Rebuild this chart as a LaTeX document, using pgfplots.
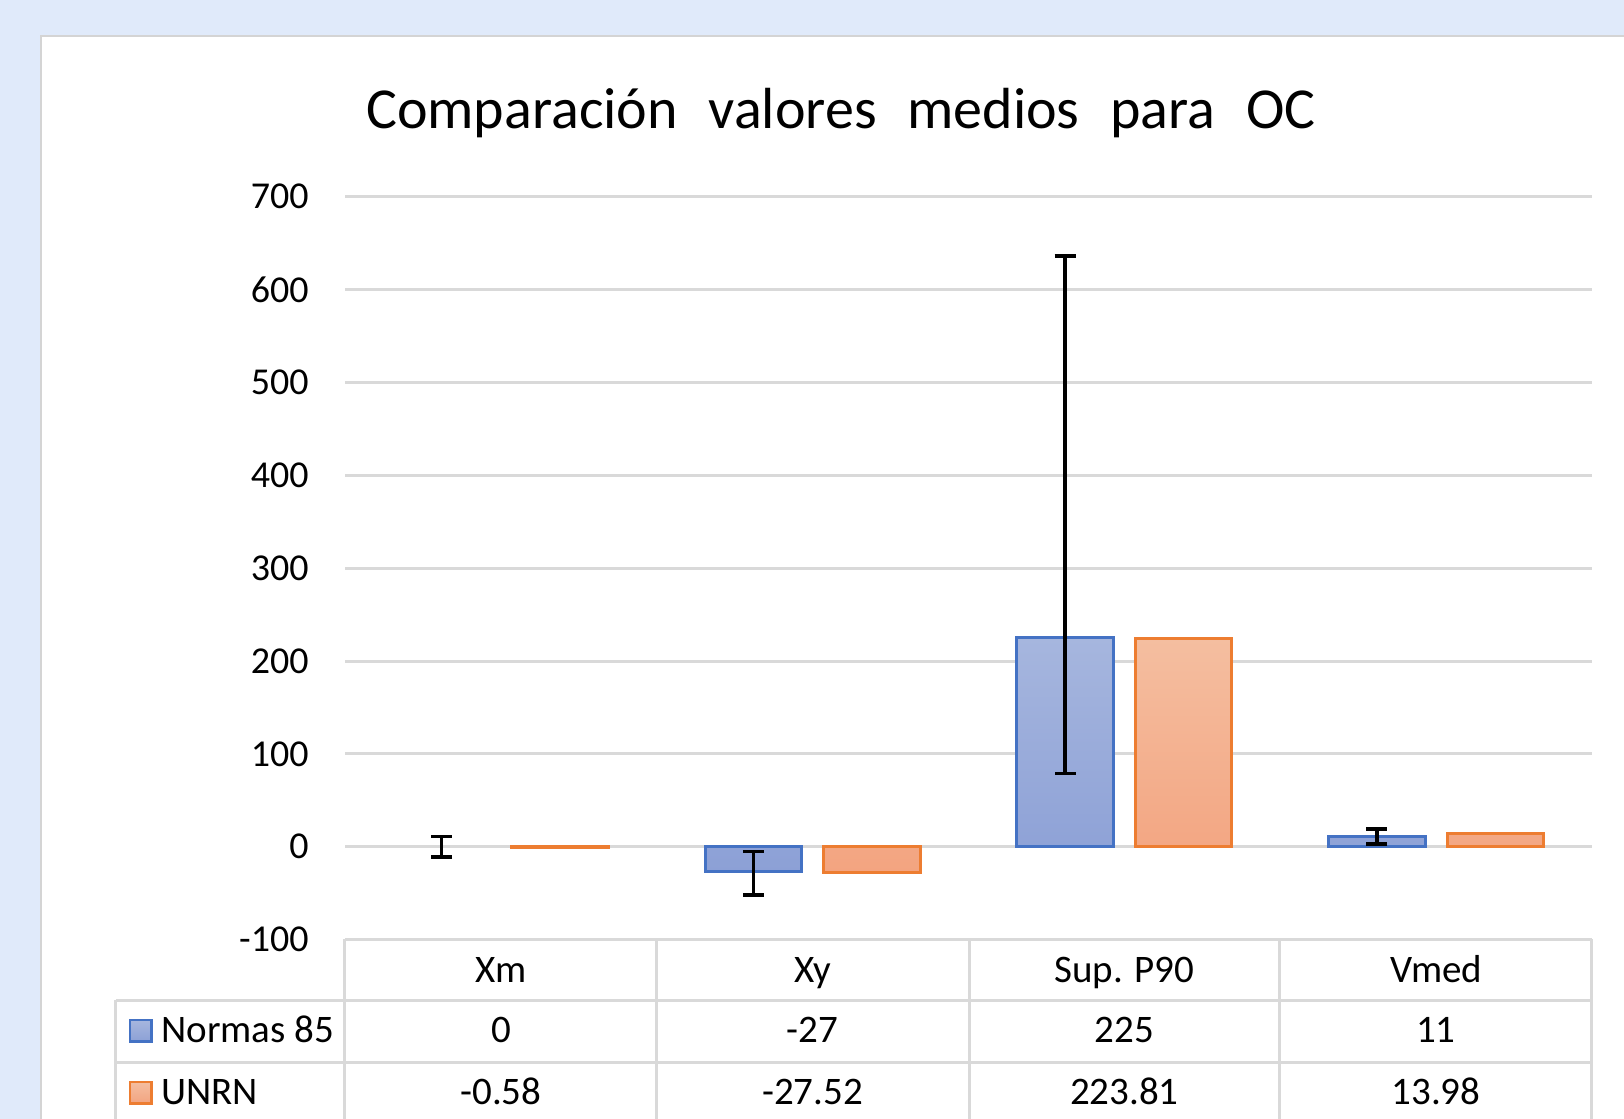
\documentclass[border=0pt]{standalone}
\usepackage{pgfplots}
\pgfplotsset{compat=1.18}
\usepackage{pgfplotstable}
\usepackage{fontspec}
\setmainfont{Carlito}
\definecolor{bgblue}{HTML}{E0EAFA}
\definecolor{panelgray}{HTML}{D4D4D4}
\definecolor{gridgray}{HTML}{D9D9D9}
\definecolor{blueb}{HTML}{4472C4}
\definecolor{bluetop}{HTML}{A6B6DE}
\definecolor{bluebot}{HTML}{8CA0D6}
\definecolor{orangeb}{HTML}{ED7D31}
\definecolor{orangetop}{HTML}{F4BEA0}
\definecolor{orangebot}{HTML}{F3A480}

% x = category, xe = position of the Normas 85 bar (for its error bar)
\pgfplotstableread{
x xe y ep em
0 -0.19 0 11 11
1 0.81 -27 22 25
2 1.81 225 411 146
3 2.81 11 8 8
}\normas
\pgfplotstableread{
x y
0 -0.58
1 -27.52
2 223.81
3 13.98
}\unrn

\newcommand{\tfont}{\fontsize{19.5bp}{22bp}\selectfont}
\newcommand{\kfont}{\fontsize{19bp}{22bp}\selectfont}

\begin{document}
\begin{tikzpicture}
\useasboundingbox (0,0) rectangle (812bp,-559.5bp);
\clip (0,0) rectangle (812bp,-559.5bp);
\begin{scope}[x=0.5bp,y=-0.5bp]
\fill[bgblue] (0,0) rectangle (1624,1119);
\filldraw[fill=white, draw=panelgray, line width=1.25bp] (41,36) rectangle (1700,1200);
% title
\node[anchor=base, inner sep=0pt] at (841,128.3) {\fontsize{29bp}{34bp}\selectfont Comparación\hspace{15.4bp}valores\hspace{15.4bp}medios\hspace{15.4bp}para\hspace{15.4bp}OC};
% data table grid
\begin{scope}[gridgray, line width=1.5bp]
\foreach \xx in {345,656.6,969.4,1280,1592} {\draw (\xx,939.5) -- (\xx,1130);}
\draw (116,1000.5) -- (116,1130);
\draw (116,1000.5) -- (1592,1000.5);
\draw (116,1062.6) -- (1592,1062.6);
\end{scope}
% legend keys in the table
\draw[blueb, line width=1.25bp, top color=bluetop, bottom color=bluebot] (130,1020) rectangle (151.5,1041.5);
\draw[orangeb, line width=1.25bp, top color=orangetop, bottom color=orangebot] (130,1082) rectangle (151.5,1103.5);
\node[anchor=base west, inner sep=0pt] at (161,1042.5) {\tfont Normas 85};
\node[anchor=base west, inner sep=0pt] at (161,1104.7) {\tfont UNRN};
% table values
\node[anchor=base, inner sep=0pt] at (500.9,1042.5) {\tfont 0};
\node[anchor=base, inner sep=0pt] at (812.6,1042.5) {\tfont -27};
\node[anchor=base, inner sep=0pt] at (1124.4,1042.5) {\tfont 225};
\node[anchor=base, inner sep=0pt] at (1436,1042.5) {\tfont 11};
\node[anchor=base, inner sep=0pt] at (500.9,1104.7) {\tfont -0.58};
\node[anchor=base, inner sep=0pt] at (812.6,1104.7) {\tfont -27.52};
\node[anchor=base, inner sep=0pt] at (1124.4,1104.7) {\tfont 223.81};
\node[anchor=base, inner sep=0pt] at (1436,1104.7) {\tfont 13.98};
\end{scope}

\begin{axis}[
  at={(172.5bp,-98.35bp)}, anchor=north west,
  scale only axis, width=623.5bp, height=371.45bp,
  xmin=-0.5, xmax=3.5, ymin=-100, ymax=700,
  ytick={-100,0,100,200,300,400,500,600,700},
  xtick={0,1,2,3}, xticklabels={Xm,Xy,Sup. P90,Vmed},
  ymajorgrids, grid style={line width=1.5bp, draw=gridgray},
  axis line style={draw=none}, major tick length=0pt,
  bar width=0.31,
  clip=false,
  yticklabel style={font=\kfont},
  xticklabel style={font=\tfont},
  /pgf/number format/assume math mode=true,
  yticklabel style={anchor=east, inner sep=0pt, xshift=-18bp},
  xticklabel style={anchor=base, inner sep=0pt, yshift=-21.5bp},
]
\addplot[ybar, bar shift=-0.19, draw=blueb, line width=1.5bp, top color=bluetop, bottom color=bluebot, restrict x to domain=0.5:3.5] table[x=x, y=y] {\normas};
\addplot[ybar, bar shift=0.19, draw=orangeb, line width=1.5bp, top color=orangetop, bottom color=orangebot] table[x=x, y=y] {\unrn};
\addplot[draw=none, mark=none,
  error bars/.cd, y dir=both, y explicit,
  error bar style={draw=black, line width=1.75bp},
  error mark options={rotate=90, mark size=5.25bp, draw=black, line width=1.75bp}]
  table[x=xe, y=y, y error plus=ep, y error minus=em] {\normas};
\end{axis}
\end{tikzpicture}
\end{document}
